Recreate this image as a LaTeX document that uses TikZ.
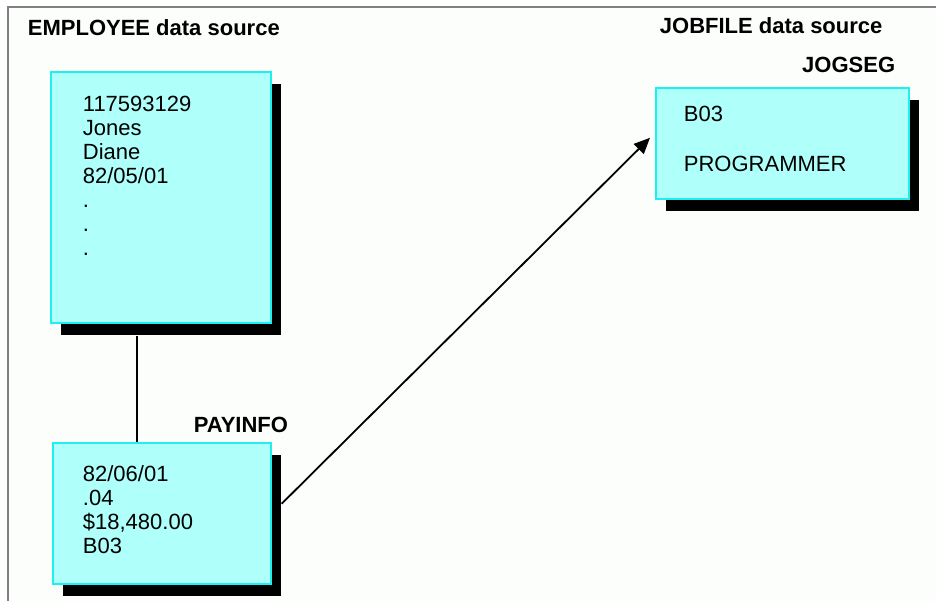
\documentclass[tikz,border=0pt]{standalone}
\usepackage{fontspec}
\setmainfont{Liberation Sans}
\usepackage{tikz}
\usetikzlibrary{arrows.meta,shadows}
\definecolor{segfill}{HTML}{AFFFFA}
\definecolor{segedge}{HTML}{1EF0F0}
\definecolor{framegray}{HTML}{808080}
\definecolor{pagebg}{HTML}{FCFEFC}

\begin{document}
\begin{tikzpicture}[x=0.5pt, y=-0.5pt, line width=0.9pt, font=\fontsize{11}{12}\selectfont,
  seg/.style={draw=segedge, line width=0.8pt, fill=segfill, anchor=north west, inner sep=0pt,
    drop shadow={shadow xshift=5pt, shadow yshift=-6pt, fill=black, opacity=1}},
  field/.style={anchor=base west, align=left, inner sep=0pt},
  title/.style={anchor=base west, inner sep=0pt, font=\fontsize{11}{12}\selectfont\bfseries}]

  \useasboundingbox (0,0) rectangle (936,601);
  % page frame: only the top and left rules are visible
  \fill[pagebg] (8,7) rectangle (936,601);
  \draw[framegray, line width=1pt] (8,601) -- (8,7) -- (936,7);

  \node[title] (emptitle) at (27,35) {EMPLOYEE data source};
  \node[title] (jobtitle) at (659,33) {JOBFILE data source};

  % segments, all with the same black drop shadow
  \node[seg, minimum width=110pt, minimum height=125.5pt] (emp) at (50,71) {};
  \node[seg, minimum width=109pt, minimum height=70.5pt] (pay) at (52,442) {};
  \node[seg, minimum width=126.5pt, minimum height=55.5pt] (jobseg) at (655,87) {};

  \node[title] (paylabel) at (193,432) {PAYINFO};
  \node[title, anchor=base east] (jobseglabel) at (896,72) {JOGSEG};

  % field lists: the base anchor sits on the LAST line
  \node[field] (empdata) at (82,255) {117593129\\Jones\\Diane\\82/05/01\\.\\.\\.};
  \node[field] (paydata) at (82,553) {82/06/01\\.04\\\$18,480.00\\B03};
  \node[field, font=\fontsize{11}{25}\selectfont] (jobdata) at (683,171) {B03\\PROGRAMMER};

  % parent/child link starts below the shadow, the join leaves from the shadow edge
  \draw ([xshift=43.5pt, yshift=-6pt]emp.south west) -- ([xshift=42.5pt]pay.north west);
  \draw[-{Triangle[length=8pt, width=7pt]}] ([xshift=5pt, yshift=4.75pt]pay.east)
    -- ([xshift=-2.5pt, yshift=2.75pt]jobseg.west);

\end{tikzpicture}
\end{document}
